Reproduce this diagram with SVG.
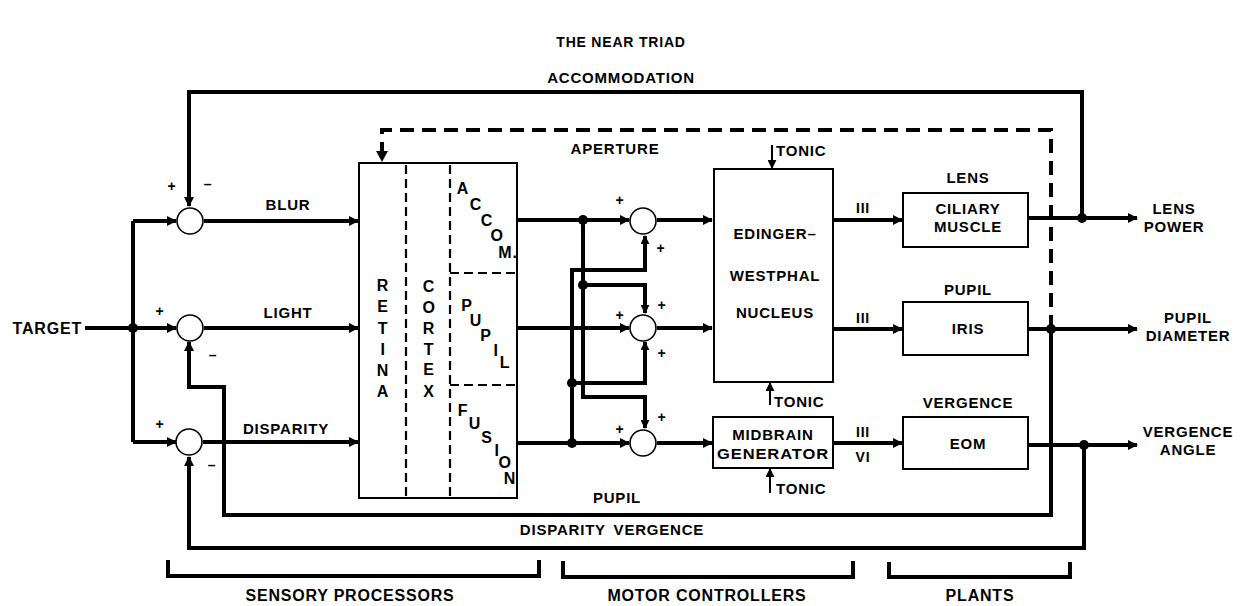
<svg xmlns="http://www.w3.org/2000/svg" width="1243" height="606" viewBox="0 0 1243 606">
<defs>
<marker id="ah" viewBox="0 0 10 10" refX="9" refY="5" markerWidth="10" markerHeight="10" markerUnits="userSpaceOnUse" orient="auto">
<path d="M0,0 L10,5 L0,10 z" fill="#000"/>
</marker>
<marker id="ahs" viewBox="0 0 10 10" refX="9" refY="5" markerWidth="9" markerHeight="9" markerUnits="userSpaceOnUse" orient="auto">
<path d="M0,0 L10,5 L0,10 z" fill="#000"/>
</marker>
</defs>
<style>
text{font-family:"Liberation Sans",Arial,sans-serif;font-weight:bold;fill:#000;font-size:15px;letter-spacing:0.8px}
.c{text-anchor:middle}
.s{text-anchor:start}
.e{text-anchor:end}
.sm{font-size:14px}
.big{font-size:16px}
.lt{font-size:16px}
.ln{fill:none;stroke:#000;stroke-width:4;stroke-linejoin:miter}
.th{fill:none;stroke:#000;stroke-width:2}
.box{fill:#fff;stroke:#000;stroke-width:2}
.sum{fill:#fff;stroke:#000;stroke-width:1.6}
.dash{fill:none;stroke:#000;stroke-width:4;stroke-dasharray:14 8}
.idash{fill:none;stroke:#000;stroke-width:2.2;stroke-dasharray:9 5}
.dot{fill:#000}
</style>
<rect width="1243" height="606" fill="#fff"/>

<g id="titles">
<text class="c sm" x="621" y="47">THE NEAR TRIAD</text>
<text class="c" x="621" y="83">ACCOMMODATION</text>
</g>

<g id="connectors">
<path class="ln" d="M1082,218 V92 H189 V206" marker-end="url(#ah)"/>
<path class="ln" d="M85,328 H176" marker-end="url(#ah)"/>
<path class="ln" d="M133,221 V442"/>
<path class="ln" d="M133,221 H176" marker-end="url(#ah)"/>
<path class="ln" d="M133,442 H176" marker-end="url(#ah)"/>
<path class="ln" d="M204,221 H358" marker-end="url(#ah)"/>
<path class="ln" d="M204,328 H358" marker-end="url(#ah)"/>
<path class="ln" d="M203,442 H358" marker-end="url(#ah)"/>
<path class="dash" d="M1051,329 V130 H382 V156"/>
<path d="M376,151 L388,151 L382,162 z" fill="#000"/>
<path class="ln" d="M517,220 H629" marker-end="url(#ah)"/>
<path class="ln" d="M517,328 H629" marker-end="url(#ah)"/>
<path class="ln" d="M517,443 H629" marker-end="url(#ah)"/>
<path class="ln" d="M583,220 V397 H645 V428" marker-end="url(#ahs)"/>
<path class="ln" d="M583,285 H645 V313" marker-end="url(#ahs)"/>
<path class="ln" d="M572,443 V270 H645 V236" marker-end="url(#ahs)"/>
<path class="ln" d="M572,383 H645 V342" marker-end="url(#ahs)"/>
<path class="ln" d="M657,220 H712" marker-end="url(#ah)"/>
<path class="ln" d="M657,328 H712" marker-end="url(#ah)"/>
<path class="ln" d="M657,443 H712" marker-end="url(#ah)"/>
<path class="ln" d="M833,220 H902" marker-end="url(#ah)"/>
<path class="ln" d="M833,329 H902" marker-end="url(#ah)"/>
<path class="ln" d="M833,443 H902" marker-end="url(#ah)"/>
<path class="ln" d="M1028,218 H1137" marker-end="url(#ah)"/>
<path class="ln" d="M1028,329 H1137" marker-end="url(#ah)"/>
<path class="ln" d="M1028,445 H1137" marker-end="url(#ah)"/>
<path class="ln" d="M1051,329 V515 H224 V387 H189 V342" marker-end="url(#ah)"/>
<path class="ln" d="M1084,445 V548 H189 V457" marker-end="url(#ah)"/>
<path class="th" d="M772,145 V168" marker-end="url(#ahs)"/>
<path class="th" d="M770,405 V383" marker-end="url(#ahs)"/>
<path class="th" d="M770,493 V469" marker-end="url(#ahs)"/>
<circle class="dot" cx="133" cy="328" r="5"/>
<circle class="dot" cx="583" cy="220" r="5"/>
<circle class="dot" cx="583" cy="285" r="5"/>
<circle class="dot" cx="572" cy="383" r="5"/>
<circle class="dot" cx="572" cy="443" r="5"/>
<circle class="dot" cx="1082" cy="218" r="5"/>
<circle class="dot" cx="1051" cy="329" r="5"/>
<circle class="dot" cx="1084" cy="445" r="5"/>
</g>

<g id="target"><text class="e big" x="82" y="334">TARGET</text></g>

<g id="sum-blur">
<circle class="sum" cx="190" cy="221" r="13"/>
<text class="c sm" x="172" y="191">+</text>
<text class="c sm" x="208" y="189">–</text>
<text class="c" x="288" y="210">BLUR</text>
</g>
<g id="sum-light">
<circle class="sum" cx="190" cy="328" r="13"/>
<text class="c sm" x="160" y="316">+</text>
<text class="c sm" x="213" y="360">–</text>
<text class="c" x="288" y="318">LIGHT</text>
</g>
<g id="sum-disparity">
<circle class="sum" cx="189" cy="442" r="13"/>
<text class="c sm" x="160" y="429">+</text>
<text class="c sm" x="212" y="470">–</text>
<text class="c" x="286" y="434">DISPARITY</text>
</g>

<g id="retina-cortex">
<rect class="box" x="359" y="163" width="158" height="335"/>
<path class="idash" d="M406,165 V497 M450,165 V497 M450,273 H516 M450,385 H516"/>
<text class="c lt" x="383" y="291">R</text>
<text class="c lt" x="383" y="312">E</text>
<text class="c lt" x="383" y="334">T</text>
<text class="c lt" x="383" y="355">I</text>
<text class="c lt" x="383" y="376">N</text>
<text class="c lt" x="383" y="397">A</text>
<text class="c lt" x="429" y="292">C</text>
<text class="c lt" x="429" y="313">O</text>
<text class="c lt" x="429" y="334">R</text>
<text class="c lt" x="429" y="355">T</text>
<text class="c lt" x="429" y="375">E</text>
<text class="c lt" x="429" y="397">X</text>
<text class="c lt" x="463" y="194">A</text>
<text class="c lt" x="476" y="210">C</text>
<text class="c lt" x="487" y="226">C</text>
<text class="c lt" x="497" y="241">O</text>
<text class="c lt" x="508" y="258">M.</text>
<text class="c lt" x="467" y="311">P</text>
<text class="c lt" x="476" y="326">U</text>
<text class="c lt" x="486" y="341">P</text>
<text class="c lt" x="496" y="356">I</text>
<text class="c lt" x="505" y="368">L</text>
<text class="c lt" x="463" y="416">F</text>
<text class="c lt" x="475" y="429">U</text>
<text class="c lt" x="487" y="443">S</text>
<text class="c lt" x="497" y="456">I</text>
<text class="c lt" x="505" y="468">O</text>
<text class="c lt" x="510" y="484">N</text>
</g>
<text class="c" x="615" y="154">APERTURE</text>

<g id="sum-accom">
<circle class="sum" cx="643" cy="221" r="13"/>
<text class="c sm" x="620" y="205">+</text>
<text class="c sm" x="661" y="253">+</text>
</g>
<g id="sum-pupil">
<circle class="sum" cx="643" cy="328" r="13"/>
<text class="c sm" x="662" y="310">+</text>
<text class="c sm" x="620" y="320">+</text>
<text class="c sm" x="662" y="358">+</text>
</g>
<g id="sum-fusion">
<circle class="sum" cx="643" cy="443" r="13"/>
<text class="c sm" x="662" y="422">+</text>
<text class="c sm" x="620" y="434">+</text>
</g>

<g id="edinger-westphal">
<rect class="box" x="714" y="169" width="119" height="213"/>
<text class="c" x="775" y="239">EDINGER–</text>
<text class="c" x="775" y="281">WESTPHAL</text>
<text class="c" x="775" y="318">NUCLEUS</text>
<text class="s" x="776" y="156">TONIC</text>
<text class="s" x="774" y="407">TONIC</text>
</g>
<g id="midbrain">
<rect class="box" x="713" y="417" width="120" height="51"/>
<text class="c" x="773" y="440">MIDBRAIN</text>
<text class="c" x="773" y="459" textLength="112" lengthAdjust="spacingAndGlyphs">GENERATOR</text>
<text class="s" x="776" y="494">TONIC</text>
</g>
<text class="c sm" x="863" y="213">III</text>
<text class="c sm" x="863" y="323">III</text>
<text class="c sm" x="863" y="437">III</text>
<text class="c sm" x="863" y="462">VI</text>

<g id="lens">
<text class="c" x="968" y="183">LENS</text>
<rect class="box" x="903" y="193" width="125" height="54"/>
<text class="c" x="968" y="214">CILIARY</text>
<text class="c" x="968" y="232">MUSCLE</text>
</g>
<g id="pupil">
<text class="c" x="968" y="295">PUPIL</text>
<rect class="box" x="903" y="302" width="125" height="53"/>
<text class="c" x="968" y="334">IRIS</text>
</g>
<g id="vergence">
<text class="c" x="968" y="408">VERGENCE</text>
<rect class="box" x="903" y="417" width="125" height="52"/>
<text class="c" x="968" y="449">EOM</text>
</g>

<g id="outputs">
<text class="c" x="1174" y="214">LENS</text>
<text class="c" x="1174" y="232">POWER</text>
<text class="c" x="1188" y="323">PUPIL</text>
<text class="c" x="1188" y="341">DIAMETER</text>
<text class="c" x="1188" y="437">VERGENCE</text>
<text class="c" x="1188" y="455">ANGLE</text>
</g>

<text class="c" x="617" y="503">PUPIL</text>
<text class="c" x="612" y="535" style="word-spacing:3px">DISPARITY VERGENCE</text>

<g id="brackets">
<path class="ln" d="M168,560 V576 H539 V560"/>
<path class="ln" d="M563,561 V577 H853 V561"/>
<path class="ln" d="M889,562 V577 H1070 V562"/>
<text class="c big" x="350" y="601">SENSORY PROCESSORS</text>
<text class="c big" x="707" y="601">MOTOR CONTROLLERS</text>
<text class="c big" x="980" y="601">PLANTS</text>
</g>
</svg>
